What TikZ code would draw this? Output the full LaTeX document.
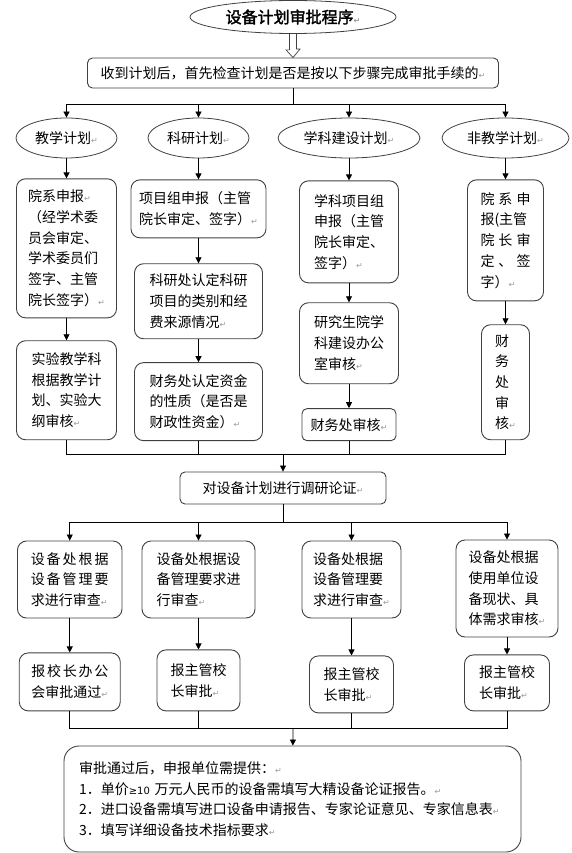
\documentclass[tikz,border=0pt]{standalone}
\usepackage{fontspec}
\setmainfont{Noto Sans CJK SC}[AutoFakeBold=2]
\newfontfamily\symfont{DejaVu Sans}
\usetikzlibrary{positioning, arrows.meta, shapes.geometric, calc}
\newcommand\retmark{{\symfont\fontsize{8}{8}\selectfont\textcolor{black!40}{↵}}}

\begin{document}
\begin{tikzpicture}[x=1pt, y=-1pt, >={Triangle[length=6pt,width=6pt]},
    oval/.style = {draw=black!75, line width=0.8pt, ellipse, inner sep=0pt, minimum height=40pt, font=\fontsize{14}{20.7}\selectfont},
    card/.style = {draw=black!75, line width=0.9pt, rounded corners=9pt, align=left, inner sep=0pt, font=\fontsize{14}{20.7}\selectfont},
    arr/.style = {->, line width=0.8pt}]
    \useasboundingbox (0,0) rectangle (571,853);
    \node[oval, minimum width=206pt, minimum height=33pt, font=\bfseries\fontsize{16}{16}\selectfont] (t) at (293,17) {设备计划审批程序\retmark};
    \node[card, rounded corners=5pt, minimum width=411pt, minimum height=30pt] (s) at (293,73) {收到计划后，首先检查计划是否是按以下步骤完成审批手续的\retmark};
    \draw[line width=0.7pt, draw=black!75] ($(t.south)+(-3.5,0)$) -- ++(0,16) -- ++(-3.5,0) -- (s.north) -- ++(7,-8.5) -- ++(-3.5,0) -- ++(0,-16);
    % four kinds of plan
    \node[oval, minimum width=101pt] (e1) at (66.5,138) {教学计划\retmark};
    \node[oval, minimum width=101pt] (e2) at (198.5,138) {科研计划\retmark};
    \node[oval, minimum width=142pt] (e3) at (349,138) {学科建设计划\retmark};
    \node[oval, minimum width=127pt] (e4) at (505.5,138) {非教学计划\retmark};
    \coordinate (h1) at (293,104);
    \draw[line width=0.8pt] (s) -- (h1);
    \foreach \n in {e1,e2,e3,e4} \draw[arr] (h1) -| (\n.north);
    \node[card, minimum width=100pt, minimum height=139pt, below=20pt of e1] (a1) {院系申报\retmark\\（经学术委\\员会审定、\\学术委员们\\签字、主管\\院长签字）\retmark};
    \node[card, minimum width=100pt, minimum height=99pt, below=22pt of a1] (a2) {实验教学科\\根据教学计\\划、实验大\\纲审核\retmark};
    \node[card, minimum width=135pt, minimum height=58pt, below=21pt of e2] (b1) {项目组申报（主管\\院长审定、签字）\retmark};
    \node[card, minimum width=128pt, minimum height=75pt, below=25pt of b1] (b2) {科研处认定科研\\项目的类别和经\\费来源情况\retmark};
    \node[card, minimum width=128pt, minimum height=78pt, below=23pt of b2] (b3) {财务处认定资金\\的性质（是否是\\财政性资金）\retmark};
    \node[card, minimum width=99pt, minimum height=102pt, below=22pt of e3] (c1) {学科项目组\\申报（主管\\院长审定、\\签字）\retmark};
    \node[card, minimum width=99pt, minimum height=81pt, below=19pt of c1] (c2) {研究生院学\\科建设办公\\室审核\retmark};
    \node[card, rounded corners=5pt, minimum width=94pt, minimum height=32pt, below=24pt of c2] (c3) {财务处审核\retmark};
    \node[card, minimum width=76pt, minimum height=121pt, below=21pt of e4] (d1) {\makebox[50pt][s]{院\hfil 系\hfil 申}\\报(主管\\\makebox[50pt][s]{院\hfil 长\hfil 审}\\\makebox[50pt][s]{定\hfil 、\hfil 签}\\字）\retmark};
    \node[card, minimum width=48pt, minimum height=115pt, below=23pt of d1] (d2) {财\\务\\处\\审\\核\retmark};
    \draw[arr] (e1) -- (e1 |- a1.north);
    \draw[arr] (a1) -- (a2);
    \draw[arr] (e2) -- (e2 |- b1.north);
    \draw[arr] (b1) -- (b2);
    \draw[arr] (b2) -- (b3);
    \draw[arr] (e3) -- (e3 |- c1.north);
    \draw[arr] (c1) -- (c2);
    \draw[arr] (c2) -- (c3);
    \draw[arr] (e4) -- (e4 |- d1.north);
    \draw[arr] (d1) -- (d2);
    % research and checks
    \coordinate (h2) at (283,454);
    \foreach \n in {a2,b3,c3,d2} \draw[line width=0.8pt] (\n.south) |- (h2);
    \node[card, rounded corners=5pt, minimum width=206pt, minimum height=32pt] (r) at (283,488) {对设备计划进行调研论证\retmark};
    \draw[arr] (h2) -- (r);
    \coordinate (h3) at (283,522);
    \draw[line width=0.8pt] (r) -- (h3);
    \node[card, minimum width=104.5pt, minimum height=77pt] (f1) at (69.75,579.5) {\makebox[78pt][s]{设\hfil 备\hfil 处\hfil 根\hfil 据}\\\makebox[78pt][s]{设\hfil 备\hfil 管\hfil 理\hfil 要}\\求进行审查\retmark};
    \node[card, minimum width=113pt, minimum height=77pt] (f2) at (198.5,579.5) {设备处根据设\\备管理要求进\\行审查\retmark};
    \node[card, minimum width=99pt, minimum height=77pt] (f3) at (351.5,579.5) {设备处根据\\设备管理要\\求进行审查\retmark};
    \node[card, minimum width=102pt, minimum height=97pt] (f4) at (507,588.5) {设备处根据\\使用单位设\\备现状、具\\体需求审核\retmark};
    \foreach \n in {f1,f2,f3,f4} \draw[arr] (h3) -| (\n.north);
    \node[card, minimum width=101pt, minimum height=58pt, below=34pt of f1] (g1) {\makebox[77pt][s]{报\hfil 校\hfil 长\hfil 办\hfil 公}\\会审批通过\retmark};
    \node[card, minimum width=83pt, minimum height=61pt, below=31pt of f2] (g2) {报主管校\\长审批\retmark};
    \node[card, minimum width=84pt, minimum height=57pt, below=37pt of f3] (g3) {报主管校\\长审批\retmark};
    \node[card, minimum width=85pt, minimum height=56pt, below=17pt of f4] (g4) {报主管校\\长审批\retmark};
    \draw[arr] (f1) -- (g1);
    \draw[arr] (f2) -- (g2);
    \draw[arr] (f3) -- (g3);
    \draw[arr] (f4) -- (g4);
    % what to hand in
    \coordinate (h4) at (293,728);
    \foreach \n in {g1,g2,g3,g4} \draw[line width=0.8pt] (\n.south) |- (h4);
    \node[card, rounded corners=15pt, minimum width=457pt, minimum height=106pt, text width=427pt, inner xsep=15pt] (z) at (292.5,799) {审批通过后，申报单位需提供：\retmark\\1．单价{\symfont\fontsize{10}{10}\selectfont ≥10} 万元人民币的设备需填写大精设备论证报告。\retmark\\2．进口设备需填写进口设备申请报告、专家论证意见、专家信息表\retmark\\3．填写详细设备技术指标要求\retmark};
    \draw[arr] (h4) -- (z);
\end{tikzpicture}
\end{document}
